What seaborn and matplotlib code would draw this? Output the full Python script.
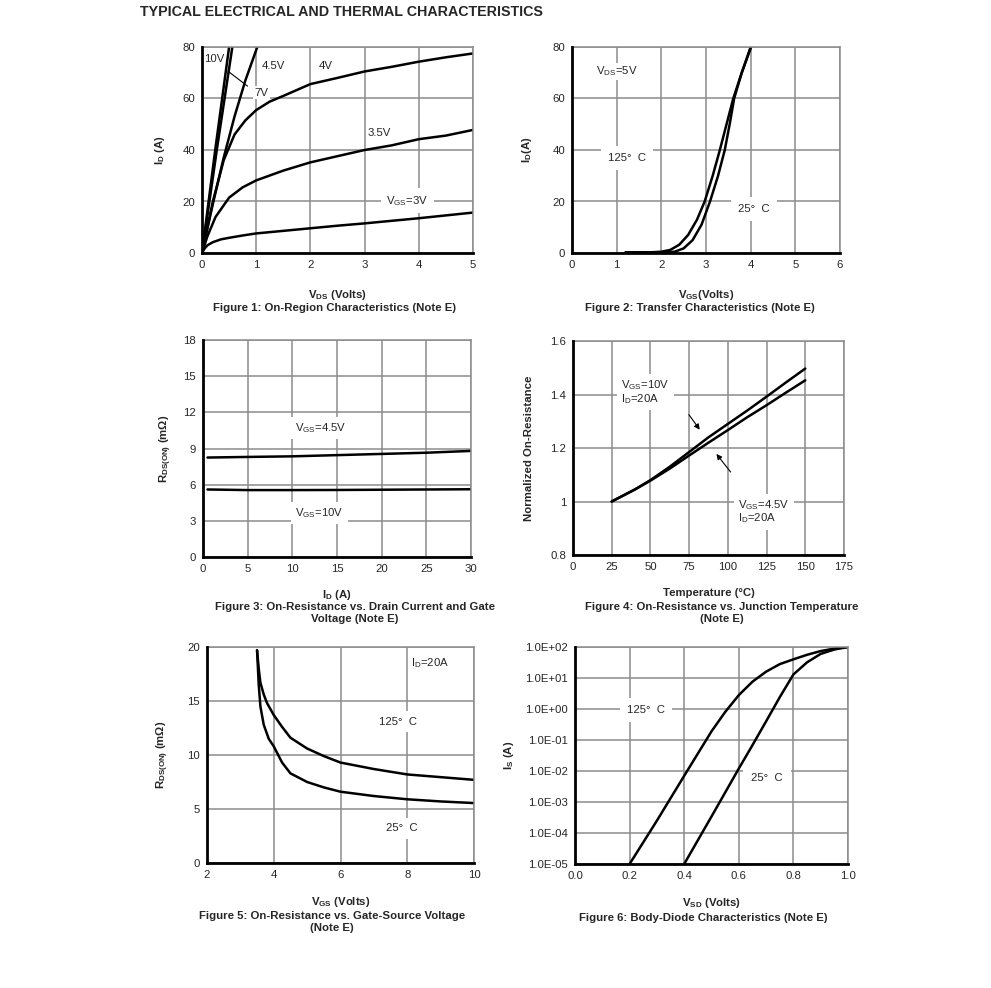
import numpy as np
import pandas as pd
import matplotlib
matplotlib.use("Agg")
import matplotlib.pyplot as plt
from matplotlib.ticker import FuncFormatter, NullLocator
import seaborn as sns

# ---- Figure 1: On-region characteristics ----
vds_10v = [0, 0.25, 0.5]
id_10v = [0, 41, 80]
vds_7v = [0, 0.28, 0.56]
id_7v = [0, 41, 80]
vds_45v = [0, 0.2, 0.4, 0.6, 0.8, 1.02]
id_45v = [0, 19, 37, 53, 67, 80]
vds_4v = [0, 0.1, 0.2, 0.4, 0.6, 0.8, 1.0, 1.25, 1.5, 2.0, 2.5, 3.0, 3.5, 4.0, 4.5, 5.0]
id_4v = [0, 10, 20, 36, 46, 51.5, 55.5, 58.8, 61, 65.6, 68, 70.5, 72.3, 74.3, 76, 77.5]
vds_35v = [0, 0.1, 0.25, 0.5, 0.75, 1.0, 1.5, 2.0, 2.5, 3.0, 3.5, 4.0, 4.5, 5.0]
id_35v = [0, 6.5, 14, 21.5, 25.5, 28.2, 32, 35.2, 37.6, 40, 41.8, 44.2, 45.6, 47.8]
vds_3v = [0, 0.05, 0.1, 0.2, 0.35, 0.5, 0.75, 1.0, 1.5, 2.0, 2.5, 3.0, 3.5, 4.0, 4.5, 5.0]
id_3v = [0, 1.8, 3.0, 4.2, 5.3, 5.9, 6.8, 7.6, 8.6, 9.6, 10.6, 11.5, 12.5, 13.5, 14.6, 15.7]

# ---- Figure 2: Transfer characteristics ----
vgs_125 = [1.2, 1.8, 2.0, 2.2, 2.4, 2.6, 2.8, 2.97, 3.15, 3.31, 3.46, 3.61, 3.8, 4.0]
id_125 = [0.3, 0.3, 0.5, 1.2, 3.2, 7, 13, 20, 30, 40, 50, 60, 70, 80]
vgs_25 = [1.2, 2.0, 2.3, 2.5, 2.7, 2.9, 3.09, 3.27, 3.42, 3.53, 3.63, 3.8, 4.01]
id_25 = [0.1, 0.1, 0.5, 1.8, 5, 11, 20, 30, 40, 50, 60, 70, 80]

# ---- Figure 3: Rds(on) vs drain current ----
id_f3 = [0.5, 5, 10, 15, 20, 25, 30]
rds_45v = [8.25, 8.3, 8.35, 8.45, 8.55, 8.65, 8.8]
rds_10v = [5.6, 5.55, 5.55, 5.56, 5.58, 5.6, 5.62]

# ---- Figure 4: Normalized Rds(on) vs temperature ----
temp = [25, 40, 50, 62.5, 75, 87.5, 100, 112.5, 125, 137.5, 150]
rn_10v = [1.0, 1.045, 1.08, 1.13, 1.185, 1.24, 1.29, 1.34, 1.392, 1.445, 1.497]
rn_45v = [1.0, 1.045, 1.078, 1.123, 1.172, 1.22, 1.267, 1.315, 1.36, 1.407, 1.453]

# ---- Figure 5: Rds(on) vs gate-source voltage ----
vgs_f5_125 = [3.5, 3.55, 3.6, 3.7, 3.8, 4.0, 4.25, 4.5, 5.0, 5.5, 6.0, 7.0, 8.0, 9.0, 10.0]
rds_f5_125 = [19.7, 18.0, 16.7, 15.6, 14.8, 13.7, 12.6, 11.6, 10.6, 9.9, 9.3, 8.7, 8.2, 7.95, 7.7]
vgs_f5_25 = [3.5, 3.55, 3.6, 3.7, 3.85, 4.0, 4.25, 4.5, 5.0, 5.5, 6.0, 7.0, 8.0, 9.0, 10.0]
rds_f5_25 = [19.7, 16.5, 14.5, 12.8, 11.5, 10.8, 9.3, 8.3, 7.5, 7.0, 6.6, 6.2, 5.9, 5.7, 5.55]

# ---- Figure 6: Body diode ----
vsd_125 = [0.2, 0.3, 0.4, 0.5, 0.55, 0.6, 0.65, 0.7, 0.75, 0.8, 0.85, 0.9, 0.95, 1.0]
is_125 = [1e-5, 2.5e-4, 7e-3, 1.9e-1, 8e-1, 2.8, 7.6, 1.6e1, 2.8e1, 4.0e1, 5.6e1, 7.4e1, 8.9e1, 1.0e2]
vsd_25 = [0.4, 0.5, 0.6, 0.65, 0.7, 0.75, 0.8, 0.85, 0.9, 0.95, 1.0]
is_25 = [1e-5, 3.4e-4, 1.2e-2, 6.8e-2, 4.0e-1, 2.4, 1.3e1, 3.2e1, 6.0e1, 8.3e1, 1.0e2]

sns.set_style("white")
plt.rcParams["font.family"] = ["Liberation Sans", "DejaVu Sans"]
plt.rcParams["mathtext.default"] = "regular"

W, H = 991, 988
fig = plt.figure(figsize=(W / 100, H / 100), dpi=100)
GRID = "#8c8c8c"
FS = 8.2


def make_ax(l, r, t, b):
    ax = fig.add_axes([l / W, 1 - b / H, (r - l) / W, (b - t) / H])
    return ax


def draw(ax, series):
    rows = []
    for name, xs, ys in series:
        for x, y in zip(xs, ys):
            rows.append((name, x, y))
    df = pd.DataFrame(rows, columns=["series", "x", "y"])
    sns.lineplot(data=df, x="x", y="y", hue="series", palette=["black"] * len(series),
                 estimator=None, sort=False, legend=False, lw=1.8, ax=ax)


def style(ax, xt, yt, xlab, ylab, ylab_x, xlab_y):
    ax.set_xticks(xt)
    ax.set_yticks(yt)
    ax.set_xlim(xt[0], xt[-1])
    ax.set_ylim(yt[0], yt[-1])
    ax.grid(True, color=GRID, lw=1.1)
    ax.set_axisbelow(True)
    for s in ["top", "right"]:
        ax.spines[s].set_color(GRID)
        ax.spines[s].set_linewidth(1.1)
    for s in ["left", "bottom"]:
        ax.spines[s].set_color("black")
        ax.spines[s].set_linewidth(2.0)
        ax.spines[s].set_zorder(5)
    ax.tick_params(length=0, labelsize=FS, pad=5)
    ax.set_xlabel(xlab, fontsize=FS, fontweight="bold")
    ax.set_ylabel(ylab, fontsize=FS, fontweight="bold")
    ax.yaxis.set_label_coords(ylab_x, 0.5)
    ax.xaxis.set_label_coords(0.5, xlab_y)


def box(ax, x, y, s, ha="left", pad=2):
    ax.text(x, y, s, fontsize=FS, ha=ha, va="center", zorder=4,
            bbox=dict(facecolor="white", edgecolor="none", pad=pad))


def caption(xc, y, s):
    fig.text(xc / W, 1 - y / H, s, fontsize=FS, fontweight="bold", ha="center", va="center",
             linespacing=1.2)


fig.text(140 / W, 1 - 12 / H, "TYPICAL ELECTRICAL AND THERMAL CHARACTERISTICS",
         fontsize=10.3, fontweight="bold", va="center")

# Figure 1
ax1 = make_ax(202, 473, 47, 253)
draw(ax1, [("10V", vds_10v, id_10v), ("7V", vds_7v, id_7v), ("4.5V", vds_45v, id_45v),
           ("4V", vds_4v, id_4v), ("3.5V", vds_35v, id_35v), ("3V", vds_3v, id_3v)])
style(ax1, [0, 1, 2, 3, 4, 5], [0, 20, 40, 60, 80], "$V_{DS}$ (Volts)", "$I_D$ (A)", -0.13, -0.17)
box(ax1, 0.03, 75.5, "10V", pad=1)
box(ax1, 1.1, 72.5, "4.5V", pad=1)
box(ax1, 2.15, 72.5, "4V", pad=1)
box(ax1, 0.97, 62.3, "7V", pad=1)
ax1.plot([0.48, 0.84], [70.6, 64.8], color="black", lw=0.8)
box(ax1, 3.06, 46.5, "3.5V", pad=1)
box(ax1, 3.4, 20.3, "$V_{GS}$=3V", pad=4)
caption(335, 308, "Figure 1: On-Region Characteristics (Note E)")

# Figure 2
ax2 = make_ax(572, 840, 47, 253)
draw(ax2, [("125", vgs_125, id_125), ("25", vgs_25, id_25)])
style(ax2, [0, 1, 2, 3, 4, 5, 6], [0, 20, 40, 60, 80], "$V_{GS}$(Volts)", "$I_D$(A)", -0.14, -0.17)
box(ax2, 0.53, 70.5, "$V_{DS}$=5V", pad=1)
box(ax2, 0.8, 37, "125°  C", pad=5)
box(ax2, 3.72, 17, "25°  C", pad=5)
caption(700, 308, "Figure 2: Transfer Characteristics (Note E)")

# Figure 3
ax3 = make_ax(203, 471, 340, 557)
draw(ax3, [("4.5V", id_f3, rds_45v), ("10V", id_f3, rds_10v)])
style(ax3, [0, 5, 10, 15, 20, 25, 30], [0, 3, 6, 9, 12, 15, 18], "$I_D$ (A)",
      "$R_{DS(ON)}$ (mΩ)", -0.108, -0.145)
box(ax3, 10.3, 10.7, "$V_{GS}$=4.5V", pad=3)
box(ax3, 10.3, 3.65, "$V_{GS}$=10V", pad=3)
caption(355, 613, "Figure 3: On-Resistance vs. Drain Current and Gate\nVoltage (Note E)")

# Figure 4
ax4 = make_ax(573, 844, 341, 555)
draw(ax4, [("10V", temp, rn_10v), ("4.5V", temp, rn_45v)])
style(ax4, [0, 25, 50, 75, 100, 125, 150, 175], [0.8, 1.0, 1.2, 1.4, 1.6], "Temperature (°C)",
      "Normalized On-Resistance", -0.145, -0.155)
ax4.yaxis.set_major_formatter(FuncFormatter(lambda v, _: f"{v:g}"))
ax4.text(31, 1.41, "$V_{GS}$=10V\n$I_D$=20A", fontsize=FS, va="center", zorder=4,
         linespacing=1.0, bbox=dict(facecolor="white", edgecolor="none", pad=3))
ax4.text(106.5, 0.962, "$V_{GS}$=4.5V\n$I_D$=20A", fontsize=FS, va="center", zorder=4,
         linespacing=1.0, bbox=dict(facecolor="white", edgecolor="none", pad=3))
ax4.annotate("", xy=(82.9, 1.26), xytext=(73.8, 1.333),
             arrowprops=dict(arrowstyle="-|>", color="black", lw=0.8, mutation_scale=8))
ax4.annotate("", xy=(91.5, 1.186), xytext=(102.9, 1.102),
             arrowprops=dict(arrowstyle="-|>", color="black", lw=0.8, mutation_scale=8))
caption(722, 613, "Figure 4: On-Resistance vs. Junction Temperature\n(Note E)")

# Figure 5
ax5 = make_ax(207, 474, 647, 863)
draw(ax5, [("125", vgs_f5_125, rds_f5_125), ("25", vgs_f5_25, rds_f5_25)])
style(ax5, [2, 4, 6, 8, 10], [0, 5, 10, 15, 20], "$V_{GS}$ (Volts)", "$R_{DS(ON)}$ (mΩ)",
      -0.135, -0.15)
box(ax5, 8.1, 18.5, "$I_D$=20A", pad=1)
box(ax5, 7.15, 13.1, "125°  C", pad=4)
box(ax5, 7.35, 3.2, "25°  C", pad=4)
caption(332, 922, "Figure 5: On-Resistance vs. Gate-Source Voltage\n(Note E)")

# Figure 6
ax6 = make_ax(575, 848, 647, 864)
ax6.set_yscale("log")
draw(ax6, [("125", vsd_125, is_125), ("25", vsd_25, is_25)])
style(ax6, [0.0, 0.2, 0.4, 0.6, 0.8, 1.0], [1e-5, 1e-4, 1e-3, 1e-2, 1e-1, 1e0, 1e1, 1e2],
      "$V_{SD}$ (Volts)", "$I_S$ (A)", -0.216, -0.148)
ax6.yaxis.set_minor_locator(NullLocator())
ax6.yaxis.set_major_formatter(FuncFormatter(lambda v, _: f"{v:.1E}"))
ax6.xaxis.set_major_formatter(FuncFormatter(lambda v, _: f"{v:.1f}"))
box(ax6, 0.19, 0.9, "125°  C", pad=5)
box(ax6, 0.645, 6e-3, "25°  C", pad=6)
caption(703, 918, "Figure 6: Body-Diode Characteristics (Note E)")

fig.savefig("out.png", dpi=100)
